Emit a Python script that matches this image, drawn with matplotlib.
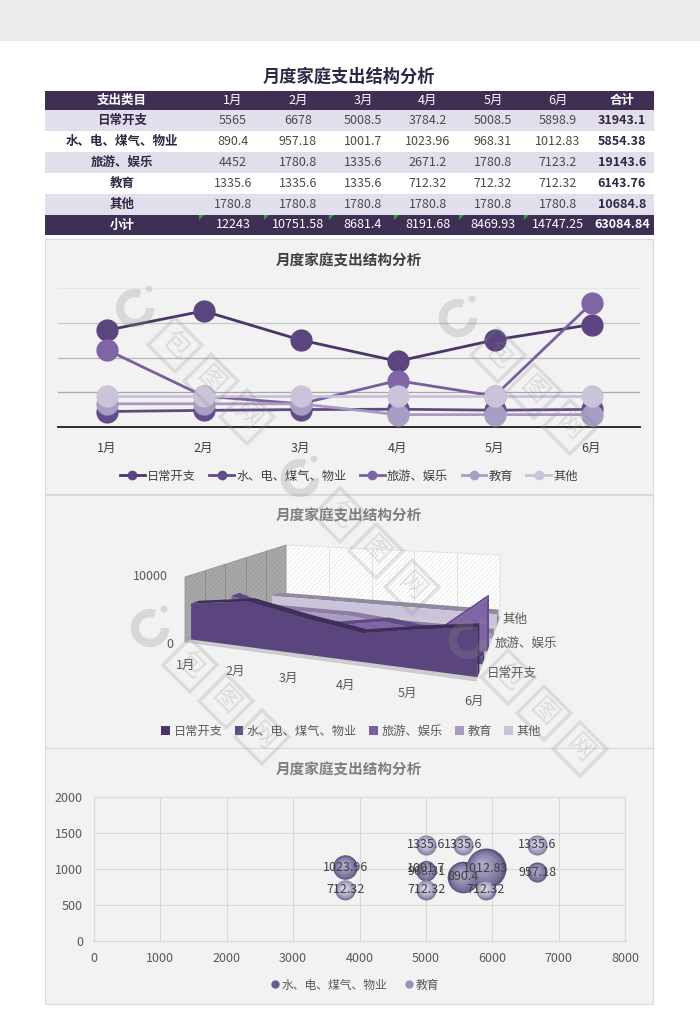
import matplotlib
matplotlib.use('Agg')
import matplotlib.pyplot as plt
from matplotlib.patches import Polygon, Rectangle, Circle, Arc, Patch
from matplotlib.lines import Line2D
from matplotlib.transforms import Affine2D

plt.rcParams['font.family'] = ['Noto Sans CJK SC', 'DejaVu Sans']
plt.rcParams['hatch.linewidth'] = 0.4

W, H = 700, 1030

title = '月度家庭支出结构分析'
months = ['1月', '2月', '3月', '4月', '5月', '6月']
header = ['支出类目'] + months + ['合计']
series_names = ['日常开支', '水、电、煤气、物业', '旅游、娱乐', '教育', '其他']
daily = [5565, 6678, 5008.5, 3784.2, 5008.5, 5898.9]
utilities = [890.4, 957.18, 1001.7, 1023.96, 968.31, 1012.83]
travel = [4452, 1780.8, 1335.6, 2671.2, 1780.8, 7123.2]
education = [1335.6, 1335.6, 1335.6, 712.32, 712.32, 712.32]
other = [1780.8, 1780.8, 1780.8, 1780.8, 1780.8, 1780.8]
series_values = [daily, utilities, travel, education, other]
row_totals = ['31943.1', '5854.38', '19143.6', '6143.76', '10684.8']
subtotals = ['12243', '10751.58', '8681.4', '8191.68', '8469.93', '14747.25', '63084.84']

line_colors = ['#4a3566', '#5f4a85', '#7a5fa0', '#a89ac0', '#c9c1d9']
marker_colors = ['#5a457e', '#634c8a', '#7f65a6', '#aa9dc3', '#cac3da']
area_tops = ['#3f2e58', '#4d3a6e', '#5f4a85', '#8b7da6', '#8f8a9e']
DARK = '#3f2f55'
TEXT = '#595959'


def ax_px(x0, y0, x1, y1):
    return fig.add_axes([x0 / W, 1 - y1 / H, (x1 - x0) / W, (y1 - y0) / H])


fig = plt.figure(figsize=(7, 10.3), dpi=100, facecolor='white')

# page layer, in pixel coordinates
page = ax_px(0, 0, W, H)
page.set_xlim(0, W)
page.set_ylim(H, 0)
page.axis('off')
page.add_patch(Rectangle((0, 0), W, 41, fc='#ebebeb', ec='none'))
for top, bottom in [(239, 494), (495, 748), (748, 1004)]:
    page.add_patch(Rectangle((45, top), 608, bottom - top, fc='#f2f2f2', ec='#d9d9d9', lw=0.8))

# table
page.text(349, 77, title, ha='center', va='center', fontsize=12.4, fontweight='bold', color='#2f2745')
col_x = [122, 233, 298, 363, 428, 493, 558, 622]
row_edges = [91, 110, 131, 152, 173, 194, 215, 235]
row_fill = [DARK, '#e3deec', 'white', '#e3deec', 'white', '#e3deec', DARK]
for i, fill in enumerate(row_fill):
    page.add_patch(Rectangle((45, row_edges[i]), 609, row_edges[i + 1] - row_edges[i], fc=fill, ec='none'))


def row_text(i, cells):
    cy = (row_edges[i] + row_edges[i + 1]) / 2
    for j, cell in enumerate(cells):
        if i in (0, 6):
            color = 'white'
        else:
            color = '#2f2745' if j in (0, 7) else '#4a4a4a'
        weight = 'bold' if j in (0, 7) else 'normal'
        page.text(col_x[j], cy, cell, ha='center', va='center', fontsize=9, color=color, fontweight=weight)


row_text(0, header)
for i in range(5):
    row_text(i + 1, [series_names[i]] + ['%g' % v for v in series_values[i]] + [row_totals[i]])
row_text(6, ['小计'] + subtotals)
for x in col_x[1:7]:
    page.add_patch(Polygon([(x - 34, 215), (x - 29, 215), (x - 34, 220)], fc='#2e9e3f', ec='none'))

# line chart
page.text(349, 261, title, ha='center', va='center', fontsize=10.5, fontweight='bold', color='#404040')
ax1 = ax_px(58, 288, 640, 427)
ax1.patch.set_alpha(0)
grid_colors = ['#e6e6e6', '#c8c8c8', '#b8b8b8', '#a8a8a8']
for level, gc in zip([8000, 6000, 4000, 2000], grid_colors):
    ax1.axhline(level, color=gc, lw=0.9, zorder=1)
for name, vals, lc, mc in zip(series_names, series_values, line_colors, marker_colors):
    ax1.plot(range(6), vals, color=lc, lw=2, marker='o', ms=15, mfc=mc, mec=mc, zorder=3, clip_on=False, label=name)
ax1.set_xlim(-0.5, 5.5)
ax1.set_ylim(0, 8000)
ax1.set_yticks([])
ax1.set_xticks(range(6), months)
ax1.tick_params(axis='x', length=0, pad=11, labelsize=9, labelcolor='#404040')
for s in ['top', 'left', 'right']:
    ax1.spines[s].set_visible(False)
ax1.spines['bottom'].set_color('#1a1a1a')
ax1.spines['bottom'].set_linewidth(1.3)
ax1.legend(handles=[Line2D([], [], color=lc, lw=2, marker='o', ms=6, mfc=mc, mec=mc)
                    for lc, mc in zip(line_colors, marker_colors)], labels=series_names, loc='center',
           bbox_to_anchor=(349, 476), bbox_transform=page.transData, ncol=5, frameon=False, fontsize=8.8,
           labelcolor='#404040', columnspacing=1.1, handletextpad=0.2, handlelength=2)

# 3D area chart, projected by hand into pixel coordinates
page.text(349, 516, title, ha='center', va='center', fontsize=10.5, fontweight='bold', color='#7f7f7f')
floor_fl, floor_fr, floor_bl, floor_br = (185, 642), (476, 681), (286, 600), (500, 617)
h_fl, h_fr, h_bl, h_br = 65, 86, 55, 62


def bilerp(a, b, c, d, u, v):
    front = a + (b - a) * u
    back = c + (d - c) * u
    return front + (back - front) * v


def project(u, v, value):
    px = bilerp(floor_fl[0], floor_fr[0], floor_bl[0], floor_br[0], u, v)
    py = bilerp(floor_fl[1], floor_fr[1], floor_bl[1], floor_br[1], u, v)
    return px, py - bilerp(h_fl, h_fr, h_bl, h_br, u, v) * value / 10000


page.add_patch(Polygon([project(0, 1, 0), project(1, 1, 0), project(1, 1, 10000), project(0, 1, 10000)],
                       fc='white', ec='#dedede', lw=0.6, hatch='///////', zorder=2))
page.add_patch(Polygon([project(0, 0, 0), project(0, 1, 0), project(0, 1, 10000), project(0, 0, 10000)],
                       fc='#a8a8a8', ec='#969696', lw=0.6, hatch='///////', zorder=2))
page.add_patch(Polygon([project(0, 0, 0), project(1, 0, 0), project(1, 1, 0), project(0, 1, 0)],
                       fc='#cfcfcf', ec='#c4c4c4', lw=0.5, hatch='///////', zorder=2))
for step in range(1, 5):
    page.plot(*zip(project(step / 5, 1, 0), project(step / 5, 1, 10000)), color='#e2e2e2', lw=0.7, zorder=2.1)
    page.plot(*zip(project(0, step / 5, 0), project(0, step / 5, 10000)), color='#8c8c8c', lw=0.7, zorder=2.1)

z = 3
us = [k / 5 for k in range(6)]
for idx in [4, 3, 2, 1, 0]:
    vals = series_values[idx]
    v_front = (idx + 0.3) / 5
    v_back = (idx + 0.7) / 5
    front_top = [project(u, v_front, y) for u, y in zip(us, vals)]
    back_top = [project(u, v_back, y) for u, y in zip(us, vals)]
    page.add_patch(Polygon(back_top + front_top[::-1], fc=area_tops[idx], ec='none', zorder=z))
    page.add_patch(Polygon([project(1, v_front, 0), project(1, v_back, 0), back_top[-1], front_top[-1]],
                           fc=area_tops[idx], ec='none', zorder=z + 0.1))
    page.add_patch(Polygon([project(0, v_front, 0)] + front_top + [project(1, v_front, 0)],
                           fc=marker_colors[idx], ec='none', zorder=z + 0.2))
    z += 1

for label, x, y in zip(months, [186, 235, 288, 345, 407, 474], [665, 671, 678, 685, 693, 701]):
    page.text(x, y, label, ha='center', va='center', fontsize=9, color=TEXT)
for label, x, y in [('10000', 150, 576), ('0', 170, 644), ('其他', 515, 619), ('旅游、娱乐', 526, 643), ('日常开支', 512, 673)]:
    page.text(x, y, label, ha='center', va='center', fontsize=9, color=TEXT)
page.legend([Patch(fc=c, ec='none') for c in line_colors], series_names, loc='center',
            bbox_to_anchor=(351, 731), bbox_transform=page.transData, ncol=5, frameon=False, fontsize=8.8,
            labelcolor=TEXT, columnspacing=1.0, handletextpad=0.3, handlelength=0.7, handleheight=0.7)

# bubble chart
page.text(349, 770, title, ha='center', va='center', fontsize=10.5, fontweight='bold', color='#7f7f7f')
ax3 = ax_px(94, 797, 625, 941)
ax3.patch.set_alpha(0)
ax3.set_xlim(0, 8000)
ax3.set_ylim(0, 2000)
ax3.set_xticks(range(0, 8001, 1000))
ax3.set_yticks(range(0, 2001, 500))
ax3.grid(color='#d9d9d9', lw=0.8)
ax3.set_axisbelow(True)
ax3.tick_params(length=0, labelsize=9, labelcolor=TEXT, pad=8)
for s in ax3.spines.values():
    s.set_color('#d9d9d9')
    s.set_linewidth(0.8)

px_x = 531 / 8000
px_y = 144 / 2000


def sphere(ax, x, y, size, dark, light):
    r = 20 * (size / 7123.2) ** 0.5
    steps = 10
    for k in range(steps):
        f = k / (steps - 1)
        frac = 1 - 0.88 * f
        dx = -0.2 * r * f / px_x
        dy = 0.22 * r * f / px_y
        shade = f ** 0.6
        mix = [int(dark[i:i + 2], 16) * (1 - shade) + int(light[i:i + 2], 16) * shade for i in (1, 3, 5)]
        color = '#%02x%02x%02x' % tuple(int(m) for m in mix)
        ax.scatter(x + dx, y + dy, s=(2 * r * frac * 0.72) ** 2, color=color, lw=0, zorder=3 + k * 0.01)


for x, y, size in zip(daily, utilities, travel):
    sphere(ax3, x, y, size, '#5f5484', '#b0a9c9')
for x, y, size in zip(daily, education, other):
    sphere(ax3, x, y, size, '#81779e', '#dcd8e9')
for x, y in list(zip(daily, utilities)) + list(zip(daily, education)):
    ax3.text(x, y, '%g' % y, ha='center', va='center', fontsize=9, color='#404040', zorder=5)

legend3 = [Line2D([], [], ls='none', marker='o', ms=6, mfc='#6b5a8e', mec='none'),
           Line2D([], [], ls='none', marker='o', ms=6, mfc='#9d90b8', mec='none')]
ax3.legend(legend3, [series_names[1], series_names[3]], loc='center', bbox_to_anchor=(354, 985),
           bbox_transform=page.transData, ncol=2, frameon=False, fontsize=8.5, labelcolor=TEXT,
           columnspacing=1.4, handletextpad=0, handlelength=1)

# watermark layer
mark = ax_px(0, 0, W, H)
mark.set_xlim(0, W)
mark.set_ylim(H, 0)
mark.axis('off')
mark.patch.set_alpha(0)
WM = '#8c8c8c'
for lx, ly in [(135, 308), (458, 318), (150, 628), (300, 478), (468, 640)]:
    mark.add_patch(Arc((lx, ly), 30, 30, angle=0, theta1=0, theta2=290, ec=WM, lw=6, alpha=0.25))
    mark.add_patch(Circle((lx + 14, ly - 19), 3.5, fc=WM, ec='none', alpha=0.25))
    for n, glyph in enumerate('包图网'):
        cx, cy = lx + 40 + n * 36, ly + 37 + n * 36
        box = Affine2D().rotate_deg_around(cx, cy, 45) + mark.transData
        mark.add_patch(Rectangle((cx - 19, cy - 19), 38, 38, fc='none', ec=WM, lw=2.5, alpha=0.22, transform=box))
        mark.text(cx, cy, glyph, ha='center', va='center', fontsize=19, rotation=-45, color=WM, alpha=0.22)

fig.savefig('out.png', dpi=100)
